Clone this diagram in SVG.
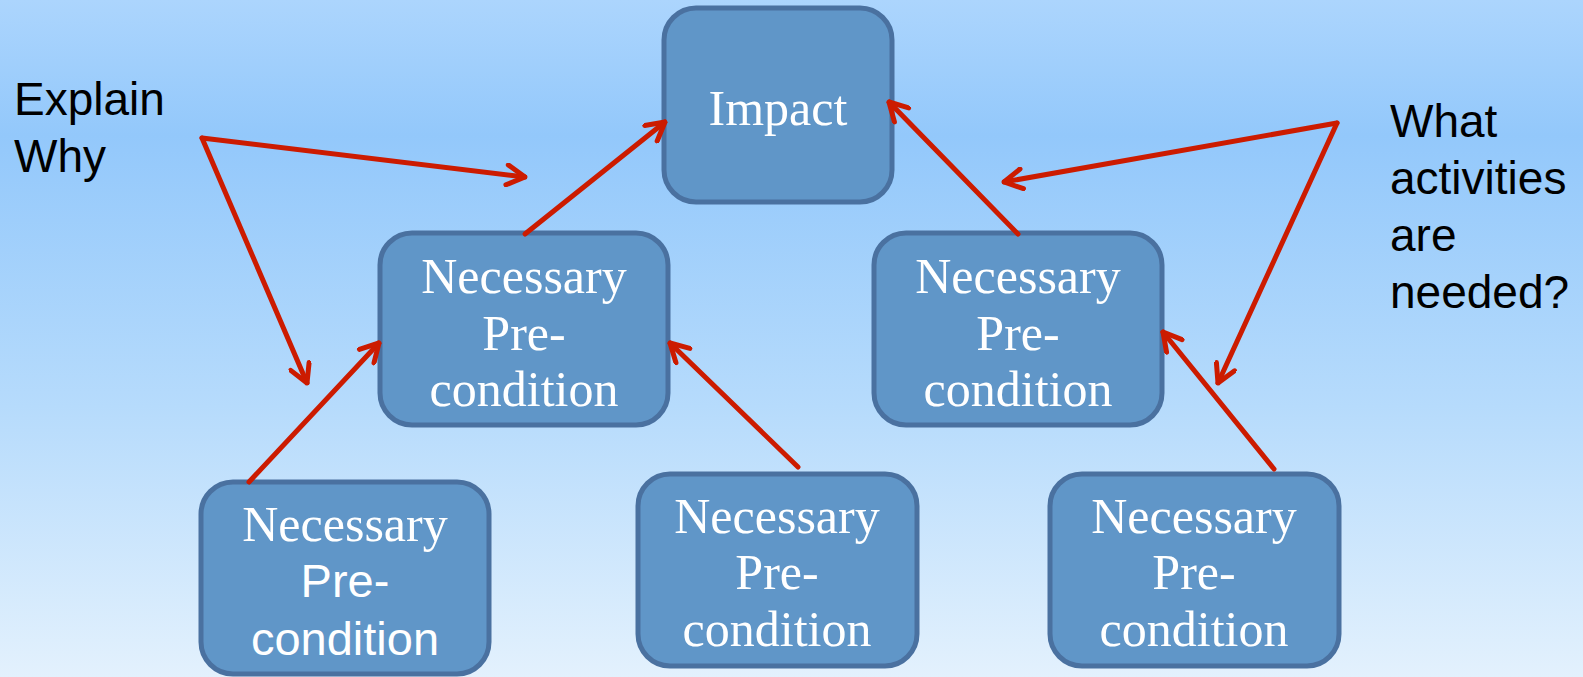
<svg xmlns="http://www.w3.org/2000/svg" width="1583" height="677" viewBox="0 0 1583 677">
<defs>
<linearGradient id="bg" x1="0" y1="0" x2="0" y2="1">
<stop offset="0" stop-color="#acd5fd"/>
<stop offset="0.2" stop-color="#93c8fb"/>
<stop offset="0.6" stop-color="#b6dbfc"/>
<stop offset="1" stop-color="#e3f1fd"/>
</linearGradient>
<marker id="ah" viewBox="-22 -12 24 24" markerWidth="24" markerHeight="24" refX="0" refY="0" orient="auto" markerUnits="userSpaceOnUse">
<polyline points="-18,-10 0,0 -18,10" fill="none" stroke="#cc1b00" stroke-width="5" stroke-linecap="round" stroke-linejoin="round"/>
</marker>
<style>
.box{fill:#6096c8;stroke:#4a71a0;stroke-width:5}
.serif{font-family:"Liberation Serif","DejaVu Serif",serif;font-size:50px;fill:#ffffff;text-anchor:middle}
.sans{font-family:"Liberation Sans",Arial,sans-serif;font-size:47px;fill:#ffffff;text-anchor:middle}
.label{font-family:"Liberation Sans",Arial,sans-serif;font-size:46px;fill:#000000}
.conn{stroke:#cc1b00;stroke-width:5;fill:none;stroke-linecap:round;stroke-linejoin:round}
</style>
</defs>
<rect x="0" y="0" width="1583" height="677" fill="url(#bg)"/>

<g id="impact">
<rect class="box" x="664" y="8" width="228" height="194" rx="32"/>
<text class="serif" x="778" y="125">Impact</text>
</g>
<g id="mid-left">
<rect class="box" x="380" y="233" width="288" height="192" rx="32"/>
<text class="serif" x="524" y="293">Necessary</text>
<text class="serif" x="524" y="350">Pre-</text>
<text class="serif" x="524" y="406">condition</text>
</g>
<g id="mid-right">
<rect class="box" x="874" y="233" width="288" height="192" rx="32"/>
<text class="serif" x="1018" y="293">Necessary</text>
<text class="serif" x="1018" y="350">Pre-</text>
<text class="serif" x="1018" y="406">condition</text>
</g>
<g id="bottom-left">
<rect class="box" x="201" y="482" width="288" height="192" rx="32"/>
<text class="serif" x="345" y="541">Necessary</text>
<text class="sans" x="345" y="597">Pre-</text>
<text class="sans" x="345" y="655">condition</text>
</g>
<g id="bottom-middle">
<rect class="box" x="638" y="474" width="279" height="192" rx="32"/>
<text class="serif" x="777" y="533">Necessary</text>
<text class="serif" x="777" y="589">Pre-</text>
<text class="serif" x="777" y="646">condition</text>
</g>
<g id="bottom-right">
<rect class="box" x="1050" y="474" width="289" height="192" rx="32"/>
<text class="serif" x="1194" y="533">Necessary</text>
<text class="serif" x="1194" y="589">Pre-</text>
<text class="serif" x="1194" y="646">condition</text>
</g>

<g id="explain-why">
<text class="label" x="14" y="115">Explain</text>
<text class="label" x="14" y="172">Why</text>
</g>
<g id="what-activities">
<text class="label" x="1390" y="137">What</text>
<text class="label" x="1390" y="194">activities</text>
<text class="label" x="1390" y="251">are</text>
<text class="label" x="1390" y="308">needed?</text>
</g>

<g id="connectors">
<line class="conn" x1="525" y1="234" x2="665" y2="122" marker-end="url(#ah)"/>
<line class="conn" x1="1018" y1="234" x2="889" y2="102" marker-end="url(#ah)"/>
<line class="conn" x1="249" y1="482" x2="379" y2="343" marker-end="url(#ah)"/>
<line class="conn" x1="798" y1="467" x2="670" y2="343" marker-end="url(#ah)"/>
<line class="conn" x1="1274" y1="469" x2="1163" y2="332" marker-end="url(#ah)"/>
<line class="conn" x1="202" y1="138" x2="525" y2="177" marker-end="url(#ah)"/>
<line class="conn" x1="202" y1="138" x2="307" y2="383" marker-end="url(#ah)"/>
<line class="conn" x1="1337" y1="123" x2="1004" y2="182" marker-end="url(#ah)"/>
<line class="conn" x1="1337" y1="123" x2="1218" y2="383" marker-end="url(#ah)"/>
</g>
</svg>
